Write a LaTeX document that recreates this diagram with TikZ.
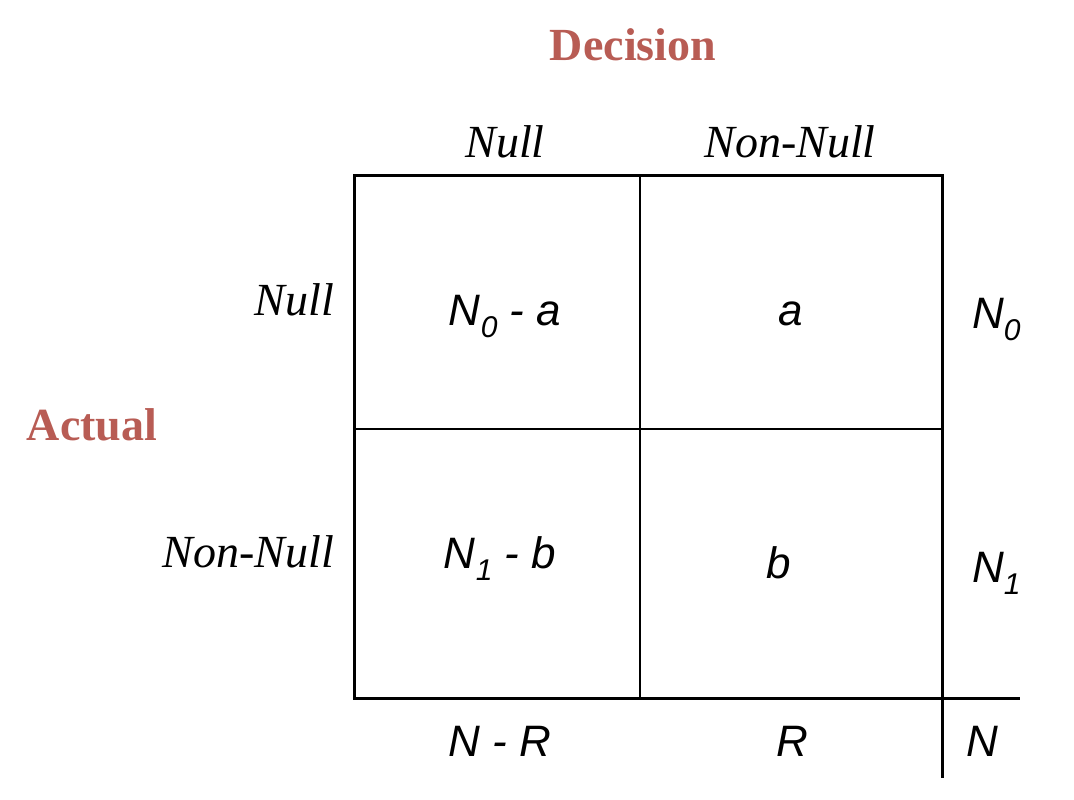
\documentclass[tikz,border=0pt]{standalone}
\usepackage{fontspec}
\setmainfont{Liberation Serif}
\newfontfamily\arialfont{Liberation Sans}
\definecolor{titlered}{RGB}{184,92,84}
\newcommand{\mysub}[1]{\raisebox{-12pt}{\fontsize{30}{30}\selectfont #1}}
\tikzset{
  title/.style={inner sep=0pt, anchor=base, text=titlered, font=\fontsize{46}{50}\selectfont\bfseries},
  head/.style={inner sep=0pt, anchor=base, font=\fontsize{46}{50}\selectfont\itshape},
  cell/.style={inner sep=0pt, anchor=base, font=\fontsize{44}{50}\selectfont\arialfont\itshape},
  thickline/.style={line width=3pt, line cap=rect},
  thinline/.style={line width=1.5pt}
}
\begin{document}
\begin{tikzpicture}[x=1pt,y=-1pt]
\useasboundingbox (0,0) rectangle (1074,800);
% grid corners
\coordinate (tl) at (354,175);
\coordinate (tr) at (942,175);
\coordinate (bl) at (354,698);
\coordinate (br) at (942,698);
\coordinate (tm) at (640,175);
\coordinate (bm) at (640,698);
\coordinate (ml) at (354,429);
\coordinate (mr) at (942,429);
\coordinate (hx) at (1020,698);
\coordinate (vx) at (942,778);
% lines
\draw[thinline] (tm) -- (bm);
\draw[thinline] (ml) -- (mr);
\draw[thickline] (tl) rectangle (br);
\draw[thickline, line cap=butt] (br) -- (hx);
\draw[thickline, line cap=butt] (br) -- (vx);
% titles
\node[title] (decision) at (633,60) {Decision};
\node[title] (actual) at (92,440) {Actual};
% column headers
\node[head] (cnull) at (505,157) {Null};
\node[head] (cnonnull) at (790,157) {Non-Null};
% row headers
\node[head, anchor=base east] (rnull) at (334,315) {Null};
\node[head, anchor=base east] (rnonnull) at (334,567) {Non-Null};
% cells
\node[cell] (c11) at (505,325) {N\mysub{0} - a};
\node[cell] (c12) at (791,325) {a};
\node[cell] (c21) at (500,568) {N\mysub{1} - b};
\node[cell] (c22) at (779,578) {b};
% margins
\node[cell, anchor=base west] (n0) at (972,328) {N\mysub{0}};
\node[cell, anchor=base west] (n1) at (972,582) {N\mysub{1}};
\node[cell] (nr) at (500,756) {N - R};
\node[cell] (r) at (792,756) {R};
\node[cell, anchor=base west] (n) at (966,756) {N};
\end{tikzpicture}
\end{document}
